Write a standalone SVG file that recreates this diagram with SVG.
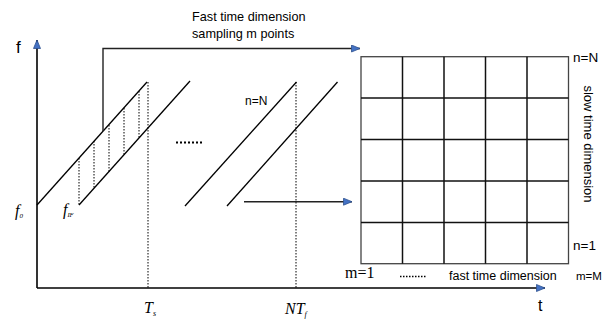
<svg xmlns="http://www.w3.org/2000/svg" width="615" height="321" viewBox="0 0 615 321">
<style>
.ln{stroke:#000;stroke-width:1.3;fill:none}
.ax{stroke:#000;stroke-width:1.6;fill:none}
.dot{stroke:#000;stroke-width:1;stroke-dasharray:1.5 1.5;fill:none}
.cn{stroke:#222;stroke-width:1.4;fill:none}
.gi{stroke:#111;stroke-width:1.5;fill:none}
.sans{font-family:"Liberation Sans",Arial,sans-serif;fill:#000}
.serif{font-family:"Liberation Serif","Times New Roman",serif;fill:#000}
.it{font-family:"Liberation Serif","Times New Roman",serif;font-style:italic;fill:#000}
</style>
<defs>
<marker id="ah" markerUnits="userSpaceOnUse" markerWidth="11" markerHeight="10" refX="9" refY="4" orient="auto">
<path d="M0.5,0.5 L9,4 L0.5,7.5 z" fill="#4472C4" stroke="#2F528F" stroke-width="0.8"/>
</marker>
</defs>
<rect width="615" height="321" fill="#fff"/>

<g id="axes">
<line class="ax" x1="37" y1="288" x2="37" y2="40" marker-end="url(#ah)"/>
<line class="ax" x1="37" y1="288" x2="545" y2="288" marker-end="url(#ah)"/>
<text class="sans" x="16" y="53" font-size="17">f</text>
<text class="sans" x="538" y="311" font-size="16">t</text>
</g>

<g id="sawtooth1">
<line class="ln" x1="37" y1="205" x2="147" y2="82"/>
<line class="ln" x1="79" y1="205" x2="190" y2="81"/>
<line class="dot" x1="79" y1="158" x2="79" y2="205"/>
<line class="dot" x1="94" y1="141" x2="94" y2="188"/>
<line class="dot" x1="109" y1="125" x2="109" y2="172"/>
<line class="dot" x1="124" y1="108" x2="124" y2="155"/>
<line class="dot" x1="139" y1="91" x2="139" y2="138"/>
<line class="dot" x1="148" y1="82" x2="148" y2="288"/>
</g>

<g id="ellipsis1">
<line x1="176" y1="142.5" x2="202" y2="142.5" stroke="#000" stroke-width="2" stroke-dasharray="2 2"/>
</g>

<g id="sawtoothN">
<line class="ln" x1="185" y1="206" x2="296.5" y2="82"/>
<line class="ln" x1="227" y1="206" x2="337.5" y2="82"/>
<line class="dot" x1="296" y1="82" x2="296" y2="288"/>
<text class="sans" x="245" y="105" font-size="12">n=N</text>
</g>

<g id="labels">
<text class="it" x="15" y="216" font-size="16">f<tspan font-size="7" dy="2">0</tspan></text>
<text class="it" x="63" y="215" font-size="16">f<tspan font-size="6.5" dy="2">IF</tspan></text>
<text class="it" x="144" y="313" font-size="16">T<tspan font-size="8" dy="3">s</tspan></text>
<text class="it" x="285" y="314" font-size="16">NT<tspan font-size="8" dy="3">f</tspan></text>
</g>

<g id="grid">
<rect x="361" y="56.7" width="207.5" height="207" fill="none" stroke="#444" stroke-width="1.3"/>
<line class="gi" x1="402.5" y1="56.7" x2="402.5" y2="263.7"/>
<line class="gi" x1="444" y1="56.7" x2="444" y2="263.7"/>
<line class="gi" x1="485.5" y1="56.7" x2="485.5" y2="263.7"/>
<line class="gi" x1="527" y1="56.7" x2="527" y2="263.7"/>
<line class="gi" x1="361" y1="98" x2="568.5" y2="98"/>
<line class="gi" x1="361" y1="139.5" x2="568.5" y2="139.5"/>
<line class="gi" x1="361" y1="181" x2="568.5" y2="181"/>
<line class="gi" x1="361" y1="222.5" x2="568.5" y2="222.5"/>
<text class="sans" x="573" y="62" font-size="13.5">n=N</text>
<text class="sans" x="573" y="250" font-size="13.5">n=1</text>
<text class="sans" x="576" y="280" font-size="11.5">m=M</text>
<text class="sans" x="449" y="280" font-size="12.5">fast time dimension</text>
<text class="serif" x="345" y="278" font-size="16">m=1</text>
<line x1="400" y1="276.5" x2="426" y2="276.5" stroke="#000" stroke-width="1.4" stroke-dasharray="1.5 1.5"/>
<text class="sans" transform="translate(584,144) rotate(90)" text-anchor="middle" font-size="13">slow time dimension</text>
</g>

<g id="connectors">
<polyline class="cn" points="103,131 103,48.5 360,48.5" marker-end="url(#ah)"/>
<line class="cn" x1="244" y1="201.7" x2="352" y2="201.7" marker-end="url(#ah)"/>
<text class="sans" x="192" y="21" font-size="12.7">Fast time dimension</text>
<text class="sans" x="192" y="38" font-size="12.7">sampling m points</text>
</g>
</svg>
